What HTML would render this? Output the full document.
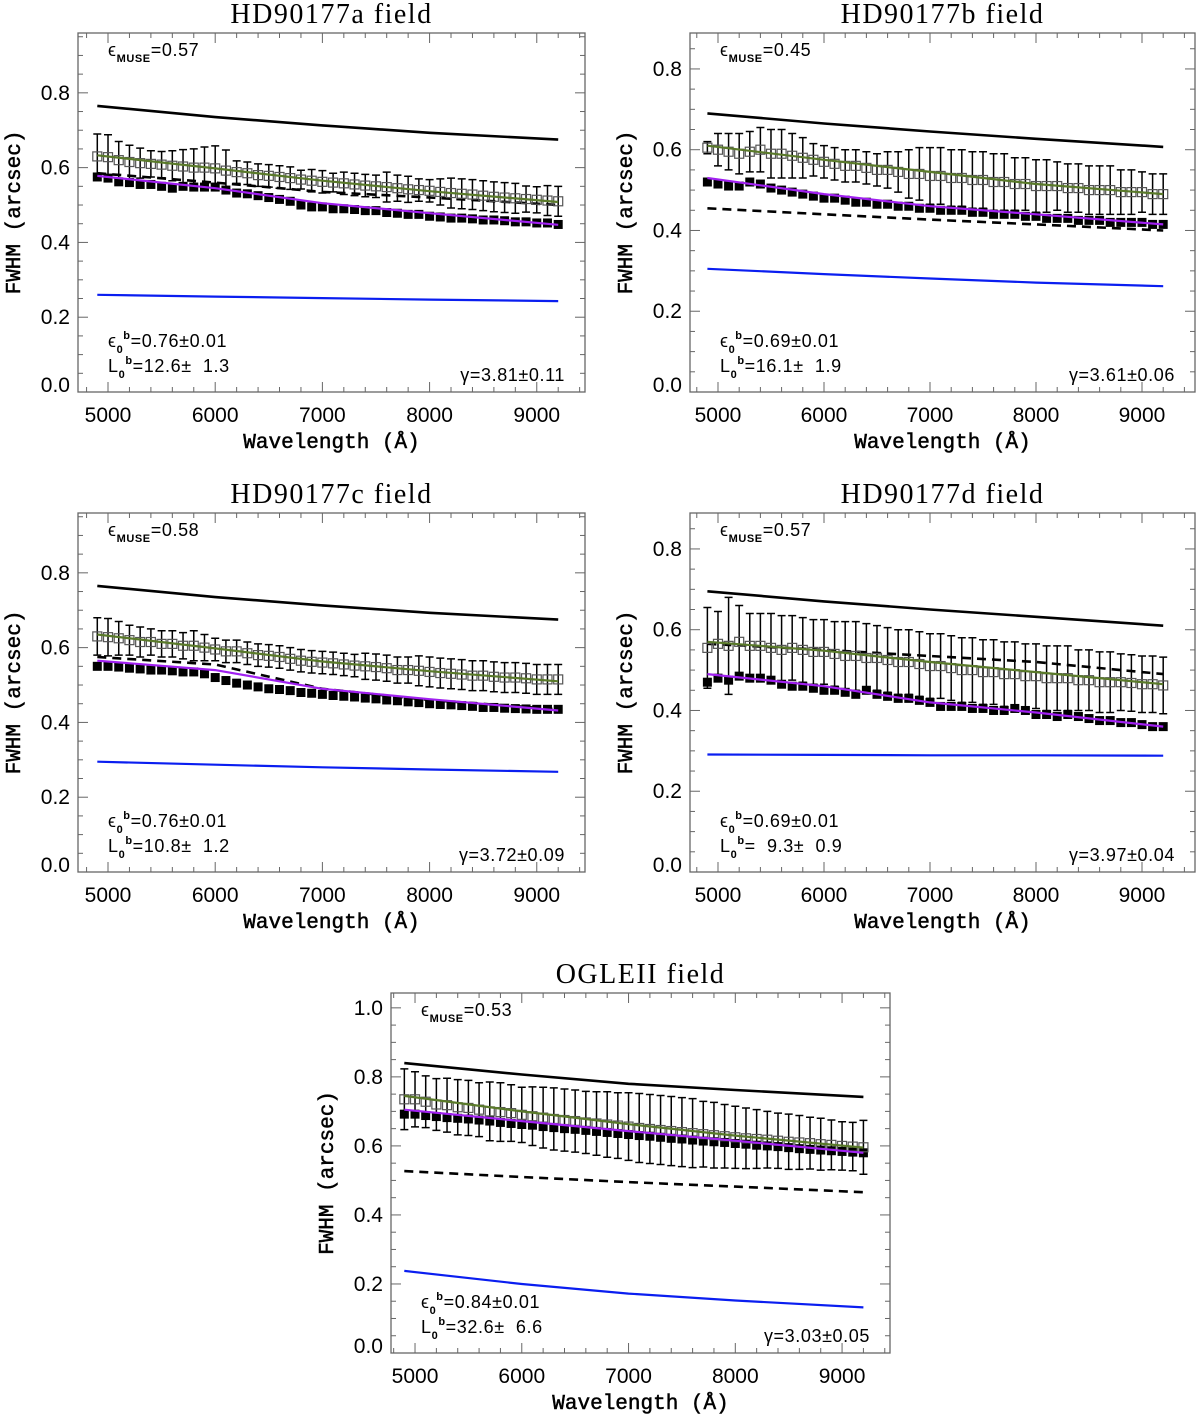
<!DOCTYPE html>
<html><head><meta charset="utf-8"><style>
html,body{margin:0;padding:0;background:#fff;}
svg{display:block;}
.tick{font-family:"Liberation Sans",sans-serif;font-size:21px;fill:#000;}
.title{font-family:"Liberation Serif",serif;font-size:28px;letter-spacing:1.5px;fill:#000;}
.axt{font-family:"Liberation Mono",monospace;font-size:21px;fill:#000;stroke:#000;stroke-width:0.5px;}
.ann{font-family:"Liberation Sans",sans-serif;font-size:18px;letter-spacing:0.6px;fill:#000;white-space:pre;}
.sub{font-family:"Liberation Sans",sans-serif;font-size:11px;font-weight:bold;fill:#000;}
</style></head><body>
<svg id="fig" width="1200" height="1418" viewBox="0 0 1200 1418" xmlns="http://www.w3.org/2000/svg"></svg>
<script>
const waves=[4900,5000,5100,5200,5300,5400,5500,5600,5700,5800,5900,6000,6100,6200,6300,6400,6500,6600,6700,6800,6900,7000,7100,7200,7300,7400,7500,7600,7700,7800,7900,8000,8100,8200,8300,8400,8500,8600,8700,8800,8900,9000,9100,9200];
const curveWaves=[4900,6000,7000,8000,9200];
const xTicks=[5000,6000,7000,8000,9000];

// Panel a
const aBlack=[0.765,0.735,0.713,0.693,0.675];
const aDashed=[0.585,0.56,0.535,0.52,0.50];
const aBlue=[0.26,0.255,0.251,0.247,0.243];
const aGreen=[0.633,0.598,0.565,0.537,0.508];
const aPurple=[0.578,0.545,0.505,0.478,0.447];
const aOpen=[0.63,0.628,0.62,0.615,0.612,0.61,0.608,0.605,0.603,0.60,0.60,0.598,0.592,0.588,0.585,0.58,0.578,0.575,0.572,0.568,0.565,0.562,0.56,0.558,0.555,0.552,0.55,0.548,0.545,0.542,0.54,0.538,0.535,0.532,0.53,0.528,0.525,0.522,0.52,0.518,0.516,0.514,0.512,0.51];
const aFilled=[0.575,0.572,0.562,0.56,0.555,0.555,0.55,0.545,0.55,0.548,0.548,0.548,0.54,0.532,0.53,0.525,0.52,0.515,0.51,0.50,0.495,0.495,0.49,0.49,0.488,0.485,0.485,0.48,0.478,0.475,0.475,0.47,0.468,0.465,0.465,0.463,0.46,0.46,0.458,0.455,0.455,0.452,0.452,0.448];
const aErr=[0.06,0.06,0.05,0.045,0.04,0.035,0.035,0.04,0.045,0.05,0.055,0.06,0.055,0.03,0.03,0.03,0.03,0.03,0.03,0.025,0.03,0.03,0.025,0.03,0.03,0.03,0.03,0.04,0.035,0.035,0.03,0.03,0.035,0.04,0.04,0.04,0.04,0.04,0.04,0.04,0.035,0.035,0.04,0.04];

// Panel b
const bBlack=[0.69,0.665,0.645,0.627,0.607];
const bDashed=[0.455,0.44,0.427,0.415,0.40];
const bBlue=[0.305,0.292,0.281,0.271,0.262];
const bGreen=[0.61,0.575,0.545,0.515,0.49];
const bPurple=[0.53,0.49,0.46,0.44,0.415];
const bOpen=[0.605,0.60,0.595,0.59,0.595,0.60,0.59,0.59,0.585,0.58,0.575,0.57,0.565,0.56,0.56,0.555,0.55,0.55,0.545,0.54,0.54,0.535,0.535,0.53,0.53,0.525,0.525,0.52,0.52,0.515,0.515,0.51,0.51,0.51,0.505,0.505,0.50,0.50,0.50,0.495,0.495,0.495,0.49,0.49];
const bFilled=[0.52,0.515,0.51,0.51,0.52,0.515,0.505,0.5,0.495,0.49,0.485,0.48,0.48,0.475,0.47,0.47,0.465,0.465,0.46,0.46,0.455,0.455,0.45,0.45,0.45,0.445,0.445,0.44,0.44,0.44,0.435,0.435,0.43,0.43,0.43,0.425,0.425,0.425,0.42,0.42,0.42,0.42,0.415,0.415];
const bErr=[0.015,0.04,0.045,0.05,0.05,0.055,0.06,0.06,0.055,0.05,0.04,0.04,0.04,0.04,0.04,0.04,0.04,0.045,0.05,0.06,0.065,0.07,0.07,0.07,0.07,0.07,0.07,0.07,0.07,0.065,0.065,0.065,0.065,0.06,0.06,0.06,0.06,0.06,0.06,0.055,0.055,0.05,0.05,0.05];

// Panel c
const cBlack=[0.765,0.735,0.713,0.693,0.675];
const cDashed=[0.575,0.555,0.49,0.46,0.435];
const cBlue=[0.295,0.287,0.28,0.274,0.268];
const cGreen=[0.635,0.598,0.563,0.537,0.51];
const cPurple=[0.565,0.54,0.49,0.462,0.432];
const cOpen=[0.63,0.628,0.625,0.62,0.615,0.615,0.61,0.61,0.605,0.605,0.60,0.595,0.59,0.59,0.585,0.58,0.578,0.575,0.57,0.565,0.562,0.56,0.558,0.555,0.552,0.55,0.548,0.545,0.54,0.54,0.538,0.535,0.532,0.53,0.528,0.525,0.525,0.522,0.52,0.52,0.518,0.515,0.515,0.515];
const cFilled=[0.55,0.55,0.548,0.545,0.543,0.54,0.54,0.538,0.535,0.535,0.53,0.52,0.512,0.505,0.5,0.495,0.49,0.488,0.485,0.48,0.478,0.475,0.472,0.47,0.468,0.465,0.463,0.46,0.458,0.455,0.453,0.45,0.448,0.447,0.445,0.443,0.44,0.44,0.438,0.437,0.436,0.435,0.435,0.435];
const cErr=[0.05,0.05,0.045,0.04,0.04,0.035,0.035,0.035,0.035,0.04,0.035,0.03,0.03,0.03,0.03,0.03,0.03,0.03,0.03,0.03,0.03,0.03,0.03,0.03,0.03,0.035,0.035,0.035,0.035,0.035,0.04,0.04,0.04,0.04,0.04,0.04,0.04,0.04,0.04,0.04,0.04,0.04,0.04,0.04];

// Panel d
const dBlack=[0.695,0.67,0.65,0.632,0.61];
const dDashed=[0.565,0.55,0.535,0.52,0.49];
const dBlue=[0.291,0.29,0.289,0.289,0.288];
const dGreen=[0.57,0.548,0.52,0.495,0.465];
const dPurple=[0.49,0.46,0.42,0.395,0.36];
const dOpen=[0.555,0.565,0.56,0.57,0.56,0.56,0.555,0.55,0.555,0.55,0.545,0.545,0.54,0.535,0.535,0.53,0.53,0.525,0.52,0.52,0.515,0.51,0.51,0.505,0.5,0.5,0.495,0.495,0.49,0.49,0.485,0.485,0.48,0.48,0.48,0.475,0.475,0.47,0.47,0.47,0.468,0.465,0.465,0.462];
const dFilled=[0.47,0.48,0.475,0.485,0.48,0.48,0.475,0.465,0.46,0.46,0.455,0.45,0.45,0.445,0.44,0.45,0.44,0.435,0.43,0.43,0.425,0.42,0.41,0.41,0.41,0.405,0.405,0.40,0.40,0.405,0.40,0.39,0.39,0.385,0.39,0.385,0.38,0.375,0.375,0.37,0.37,0.365,0.36,0.36];
const dErr=[0.1,0.08,0.12,0.09,0.08,0.08,0.085,0.085,0.08,0.08,0.08,0.08,0.08,0.085,0.085,0.085,0.08,0.08,0.08,0.08,0.08,0.08,0.08,0.08,0.08,0.08,0.08,0.08,0.08,0.08,0.08,0.08,0.08,0.08,0.08,0.075,0.075,0.075,0.075,0.07,0.07,0.07,0.07,0.07];

// Panel e
const eBlack=[0.84,0.807,0.78,0.762,0.742];
const eDashed=[0.527,0.51,0.495,0.482,0.466];
const eBlue=[0.238,0.2,0.172,0.152,0.132];
const eGreen=[0.745,0.70,0.663,0.63,0.595];
const ePurple=[0.705,0.672,0.643,0.615,0.58];
const eOpen=[0.735,0.735,0.728,0.72,0.718,0.712,0.71,0.705,0.70,0.698,0.695,0.69,0.686,0.682,0.678,0.675,0.672,0.668,0.665,0.662,0.659,0.656,0.652,0.649,0.646,0.643,0.64,0.637,0.634,0.631,0.628,0.625,0.622,0.62,0.618,0.615,0.612,0.61,0.608,0.605,0.603,0.6,0.598,0.596];
const eFilled=[0.692,0.692,0.688,0.685,0.682,0.68,0.678,0.675,0.672,0.668,0.665,0.662,0.66,0.656,0.653,0.65,0.648,0.645,0.642,0.639,0.636,0.633,0.63,0.628,0.625,0.622,0.62,0.617,0.614,0.612,0.61,0.607,0.605,0.602,0.6,0.598,0.595,0.592,0.59,0.588,0.586,0.584,0.582,0.58];
const eErr=[0.088,0.08,0.075,0.075,0.078,0.08,0.08,0.078,0.085,0.085,0.082,0.08,0.085,0.088,0.09,0.09,0.09,0.09,0.092,0.095,0.095,0.098,0.1,0.1,0.1,0.1,0.1,0.1,0.095,0.095,0.092,0.09,0.088,0.085,0.082,0.08,0.08,0.078,0.075,0.075,0.072,0.07,0.07,0.078];

const NS="http://www.w3.org/2000/svg";
const fig=document.getElementById('fig');
function mk(tag,attrs,parent){const e=document.createElementNS(NS,tag);for(const k in attrs)e.setAttribute(k,attrs[k]);(parent||fig).appendChild(e);return e;}

const panels=[
 {id:'a',title:'HD90177a field',L:78,R:585,T:33,B:392,x0:4720,x1:9450,y0:0,y1:0.96,yt:[0,0.2,0.4,0.6,0.8],black:aBlack,dashed:aDashed,blue:aBlue,green:aGreen,purple:aPurple,open:aOpen,filled:aFilled,err:aErr,muse:'0.57',eps:'=0.76±0.01',l0:'=12.6±  1.3',gam:'γ=3.81±0.11'},
 {id:'b',title:'HD90177b field',L:690,R:1195,T:33,B:392,x0:4736,x1:9500,y0:0,y1:0.889,yt:[0,0.2,0.4,0.6,0.8],black:bBlack,dashed:bDashed,blue:bBlue,green:bGreen,purple:bPurple,open:bOpen,filled:bFilled,err:bErr,muse:'0.45',eps:'=0.69±0.01',l0:'=16.1±  1.9',gam:'γ=3.61±0.06'},
 {id:'c',title:'HD90177c field',L:78,R:585,T:513,B:872,x0:4720,x1:9450,y0:0,y1:0.96,yt:[0,0.2,0.4,0.6,0.8],black:cBlack,dashed:cDashed,blue:cBlue,green:cGreen,purple:cPurple,open:cOpen,filled:cFilled,err:cErr,muse:'0.58',eps:'=0.76±0.01',l0:'=10.8±  1.2',gam:'γ=3.72±0.09'},
 {id:'d',title:'HD90177d field',L:690,R:1195,T:513,B:872,x0:4736,x1:9500,y0:0,y1:0.889,yt:[0,0.2,0.4,0.6,0.8],black:dBlack,dashed:dDashed,blue:dBlue,green:dGreen,purple:dPurple,open:dOpen,filled:dFilled,err:dErr,muse:'0.57',eps:'=0.69±0.01',l0:'=  9.3±  0.9',gam:'γ=3.97±0.04'},
 {id:'e',title:'OGLEII field',L:391,R:890,T:993,B:1353,x0:4775,x1:9449,y0:0,y1:1.043,yt:[0,0.2,0.4,0.6,0.8,1.0],black:eBlack,dashed:eDashed,blue:eBlue,green:eGreen,purple:ePurple,open:eOpen,filled:eFilled,err:eErr,muse:'0.53',eps:'=0.84±0.01',l0:'=32.6±  6.6',gam:'γ=3.03±0.05'}
];

panels.forEach(p=>{
 const X=v=>p.L+(v-p.x0)/(p.x1-p.x0)*(p.R-p.L);
 const Y=v=>p.B-(v-p.y0)/(p.y1-p.y0)*(p.B-p.T);
 const g=mk('g',{});
 
 
 const t=mk('text',{x:(p.L+p.R)/2,y:p.T-10,'text-anchor':'middle',class:'title'},g);t.textContent=p.title;
 
 
 const box=mk('rect',{x:p.L,y:p.T,width:p.R-p.L,height:p.B-p.T,fill:'none',stroke:'#666','stroke-width':1.3},g);
 
 
 for(let w=4800;w<=p.x1;w+=200){if(w<p.x0)continue;const x=X(w);const maj=w%1000===0;const len=maj?10:5;
  mk('line',{x1:x,x2:x,y1:p.B,y2:p.B-len,stroke:'#666','stroke-width':1},g);
  mk('line',{x1:x,x2:x,y1:p.T,y2:p.T+len,stroke:'#666','stroke-width':1},g);}
 xTicks.forEach(w=>{const tl=mk('text',{x:X(w),y:p.B+30,'text-anchor':'middle',class:'tick'},g);tl.textContent=w;
  
  });
 for(let i=0;i*0.05<=p.y1+1e-9;i++){const v=i*0.05;const y=Y(v);const maj=i%4===0;const len=maj?10:5;
  mk('line',{x1:p.L,x2:p.L+len,y1:y,y2:y,stroke:'#666','stroke-width':1},g);
  mk('line',{x1:p.R,x2:p.R-len,y1:y,y2:y,stroke:'#666','stroke-width':1},g);}
 p.yt.forEach(v=>{const tl=mk('text',{x:p.L-8,y:Math.min(Y(v)+7,p.B),'text-anchor':'end',class:'tick'},g);tl.textContent=v.toFixed(1);
  
  });
 const xt=mk('text',{x:(p.L+p.R)/2,y:p.B+56,'text-anchor':'middle',class:'axt'},g);xt.textContent='Wavelength (Å)';
 
 
 const yx=p.L-58,yy=(p.T+p.B)/2;
 const ytl=mk('text',{x:yx,y:yy,'text-anchor':'middle',class:'axt',transform:`rotate(-90 ${yx} ${yy})`},g);ytl.textContent='FWHM (arcsec)';
 
 
 const curve=(arr,attrs,name)=>{const pts=curveWaves.map((w,i)=>X(w).toFixed(1)+','+Y(arr[i]).toFixed(1)).join(' ');
  const pl=mk('polyline',Object.assign({points:pts,fill:'none'},attrs),g);
  
  };
 curve(p.black,{stroke:'#000','stroke-width':2.6},'model-solid-black-line');
 curve(p.blue,{stroke:'#0a1ef0','stroke-width':2.2},'blue-line');
 curve(p.dashed,{stroke:'#000','stroke-width':2.6,'stroke-dasharray':'9 6'},'model-dashed-line');
 waves.forEach((w,i)=>{const x=X(w),y1=Y(p.open[i]+p.err[i]),y2=Y(p.open[i]-p.err[i]);
  const eb=mk('path',{d:`M${x},${y1}V${y2}M${x-4},${y1}H${x+4}M${x-4},${y2}H${x+4}`,stroke:'#000','stroke-width':1.5,fill:'none'},g);
  
  });
 waves.forEach((w,i)=>{const r=mk('rect',{x:X(w)-4.5,y:Y(p.filled[i])-4.5,width:9,height:9,fill:'#000'},g);
  
  });
 waves.forEach((w,i)=>{const r=mk('rect',{x:X(w)-4.5,y:Y(p.open[i])-4.5,width:9,height:9,fill:'none',stroke:'#555','stroke-width':1.2},g);
  
  });
 curve(p.purple,{stroke:'#a020f0','stroke-width':2.2},'purple-fit-line');
 curve(p.green,{stroke:'#5a7a2a','stroke-width':2.2},'green-fit-line');
 const m=mk('text',{x:p.L+30,y:p.T+23,class:'ann'},g);
 m.innerHTML='ϵ<tspan class="sub" dy="6">MUSE</tspan><tspan dy="-6">='+p.muse+'</tspan>';
 
 
 const e0=mk('text',{x:p.L+30,y:p.B-45,class:'ann'},g);
 e0.innerHTML='ϵ<tspan class="sub" dy="6">0</tspan><tspan class="sub" dy="-14">b</tspan><tspan dy="8">'+p.eps+'</tspan>';
 
 
 const l0=mk('text',{x:p.L+30,y:p.B-20,class:'ann'},g);
 l0.innerHTML='L<tspan class="sub" dy="6">0</tspan><tspan class="sub" dy="-14">b</tspan><tspan dy="8">'+p.l0+'</tspan>';
 
 
 const gm=mk('text',{x:p.R-20,y:p.B-11,'text-anchor':'end',class:'ann'},g);gm.textContent=p.gam;
 
 
});
</script>
</body></html>
